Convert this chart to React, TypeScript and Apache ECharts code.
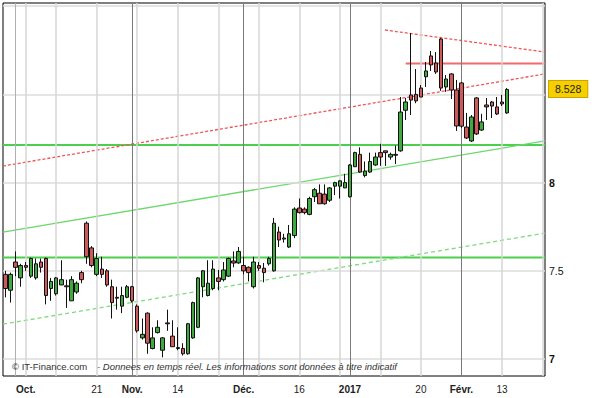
import React, { useEffect, useRef } from "react";
import * as echarts from "echarts";

// OHLC per trading day (Sep 27 2016 .. Feb 14 2017)
const opens = [7.48,7.39,7.55,7.46,7.53,7.47,7.46,7.55,7.57,7.40,7.37,7.42,7.415,7.33,7.38,7.49,7.77,7.63,7.48,7.51,7.50,7.41,7.35,7.30,7.35,7.41,7.30,7.12,7.26,7.06,7.15,7.05,7.205,7.13,7.06,7.06,7.03,7.12,7.18,7.41,7.36,7.40,7.46,7.45,7.47,7.556,7.545,7.53,7.52,7.41,7.53,7.515,7.54,7.50,7.72,7.686,7.635,7.70,7.856,7.85,7.82,7.92,7.94,7.935,7.90,7.98,7.98,7.97,7.92,8.09,8.16,8.04,8.06,8.10,8.17,8.18,8.145,8.155,8.18,8.41,8.497,8.50,8.536,8.60,8.718,8.678,8.814,8.542,8.616,8.525,8.565,8.315,8.236,8.48,8.298,8.44,8.457,8.429,8.457,8.395];
const closes = [7.40,7.48,7.52,7.53,7.52,7.57,7.54,7.52,7.36,7.44,7.46,7.45,7.41,7.45,7.43,7.45,7.58,7.53,7.57,7.48,7.42,7.32,7.345,7.36,7.41,7.33,7.16,7.14,7.09,7.12,7.18,7.12,7.20,7.07,7.065,7.03,7.20,7.32,7.46,7.50,7.43,7.51,7.44,7.505,7.57,7.544,7.61,7.50,7.49,7.55,7.515,7.49,7.57,7.77,7.675,7.68,7.71,7.85,7.83,7.83,7.91,7.96,7.88,7.88,7.97,8.00,8.01,8.00,8.10,8.17,8.06,8.065,8.12,8.145,8.145,8.17,8.16,8.16,8.40,8.457,8.468,8.463,8.485,8.633,8.667,8.627,8.536,8.587,8.525,8.321,8.32,8.253,8.372,8.276,8.344,8.429,8.434,8.389,8.446,8.528];
const lows = [7.35,7.32,7.47,7.41,7.50,7.46,7.45,7.49,7.31,7.33,7.36,7.42,7.29,7.33,7.37,7.43,7.54,7.52,7.47,7.46,7.41,7.23,7.28,7.26,7.345,7.32,7.15,7.11,7.03,7.055,7.145,7.01,7.16,7.07,7.05,7.02,7.025,7.115,7.175,7.35,7.355,7.39,7.39,7.44,7.465,7.52,7.54,7.48,7.44,7.40,7.50,7.435,7.53,7.495,7.635,7.66,7.63,7.685,7.825,7.82,7.815,7.89,7.88,7.875,7.89,7.93,7.91,7.97,7.915,8.09,8.055,8.03,8.055,8.095,8.095,8.095,8.13,8.105,8.175,8.355,8.383,8.45,8.485,8.542,8.633,8.616,8.52,8.514,8.474,8.293,8.31,8.247,8.23,8.27,8.293,8.355,8.366,8.383,8.434,8.39];
const highs = [7.50,7.49,7.61,7.54,7.55,7.575,7.57,7.57,7.575,7.46,7.465,7.56,7.45,7.47,7.44,7.50,7.78,7.64,7.60,7.58,7.51,7.45,7.41,7.41,7.42,7.415,7.31,7.23,7.265,7.18,7.22,7.125,7.28,7.22,7.18,7.09,7.205,7.325,7.465,7.505,7.56,7.56,7.505,7.55,7.575,7.61,7.635,7.58,7.525,7.58,7.55,7.545,7.58,7.80,7.75,7.71,7.76,7.86,7.91,7.86,7.92,7.97,7.99,7.99,7.975,8.005,8.015,8.05,8.105,8.175,8.20,8.12,8.17,8.17,8.22,8.18,8.17,8.21,8.485,8.48,8.848,8.644,8.553,8.684,8.746,8.74,8.82,8.61,8.62,8.582,8.57,8.395,8.383,8.485,8.39,8.48,8.463,8.485,8.497,8.536];

const slotCount = 107; // trading-day slots on the x axis (7 empty at the right)
const tickLabels: [number, string, boolean][] = [
  [4, "Oct.", true], [18, "21", false], [25, "Nov.", true], [34, "14", false],
  [47, "Déc.", true], [58, "16", false], [68, "2017", true], [82, "20", false],
  [90, "Févr.", true], [98, "13", false],
];
const yTicks: [number, boolean][] = [[7, true], [7.5, false], [8, true], [8.5, false], [9, false]];
const weekLines = [4, 10, 18, 26, 34, 42, 50, 58, 66, 74, 82, 98, 106];
const monthLines = [2, 25, 47, 68, 90];
const lastPrice = 8.528;

// trend lines: [x, price] end points in slot units
const redRise = [[0, 8.094], [107, 8.616]];
const redFall = [[75.4, 8.865], [107, 8.74]];
const redFlat = [[79.5, 8.675], [107, 8.675]];
const greenFlatHigh = [[0, 8.213], [107, 8.213]];
const greenFlatLow = [[0, 7.575], [107, 7.575]];
const greenRise = [[0, 7.72], [107, 8.236]];
const greenDashed = [[0, 7.198], [107, 7.714]];

const FONT = "'Liberation Sans', Arial, sans-serif";

export default function App() {
  const ref = useRef<HTMLDivElement>(null);
  useEffect(() => {
    if (!ref.current) return;
    const chart = echarts.init(ref.current, null, { renderer: "svg" });
    const categories = Array.from({ length: slotCount }, (_, i) => String(i));
    const labelMap: Record<number, [string, boolean]> = {};
    tickLabels.forEach(([i, t, b]) => (labelMap[i] = [t, b]));
    const candles = opens.map((o, i) => [o, closes[i], lows[i], highs[i]]);

    const trend = (data: number[][], color: string, width: number, type: any, z = 3) => ({
      type: "line",
      xAxisIndex: 1,
      yAxisIndex: 0,
      data,
      symbol: "none",
      silent: true,
      z,
      lineStyle: { color, width, type },
    });

    chart.setOption({
      animation: false,
      textStyle: { fontFamily: FONT },
      grid: {
        left: 3, top: 3, right: 66, bottom: 22,
        show: true, borderColor: "#000", borderWidth: 1, backgroundColor: "#fff",
      },
      xAxis: [
        {
          type: "category",
          data: categories,
          boundaryGap: true,
          axisLine: { show: false },
          axisTick: { show: false },
          splitLine: { show: false },
          axisLabel: {
            interval: (i: number) => labelMap[i] !== undefined,
            margin: 8,
            formatter: (_v: string, i: number) => {
              const l = labelMap[i];
              if (!l) return "";
              return l[1] ? `{b|${l[0]}}` : `{n|${l[0]}}`;
            },
            rich: {
              b: { fontWeight: "bold", fontSize: 10, color: "#222", fontFamily: FONT },
              n: { fontSize: 10, color: "#222", fontFamily: FONT },
            },
          },
        },
        { type: "value", min: 0, max: slotCount, show: false },
      ],
      yAxis: {
        type: "value",
        min: 6.904,
        max: 9.018,
        position: "right",
        axisLine: { show: false },
        axisTick: { show: false },
        axisLabel: { show: false },
        splitLine: { show: false },
      },
      graphic: [
        {
          type: "text", left: 12, top: 361, z: 10,
          style: { text: "© IT-Finance.com", fill: "#333", font: `9.5px ${FONT}` },
        },
        {
          type: "text", left: 97, top: 361, z: 10,
          style: {
            text: "- Donnees en temps réel. Les informations sont données à titre indicatif",
            fill: "#333", font: `italic 9.5px ${FONT}`,
          },
        },
      ],
      series: [
        {
          type: "line",
          xAxisIndex: 1,
          yAxisIndex: 0,
          data: [],
          silent: true,
          z: 1,
          markLine: {
            silent: true,
            symbol: "none",
            animation: false,
            data: [
              ...yTicks.map(([v, bold]) => ({
                yAxis: v,
                lineStyle: { color: "#dddddd", width: 1.5, type: "solid" },
                label: {
                  show: v < 9,
                  position: "end",
                  distance: 4,
                  formatter: String(v),
                  color: "#111",
                  fontSize: 10.5,
                  fontWeight: bold ? "bold" : "normal",
                  fontFamily: FONT,
                },
              })),
              ...weekLines.map((i) => ({
                xAxis: i + 0.5,
                lineStyle: { color: "#d6d6d6", width: 1.5, type: "solid" },
                label: { show: false },
              })),
              ...monthLines.map((i) => ({
                xAxis: i + 0.5,
                lineStyle: { color: i === 2 ? "#b0b0b0" : "#7a7a7a", width: 1, type: "solid" },
                label: { show: false },
              })),
            ],
          },
        },
        trend(greenFlatHigh, "#4ccf4c", 2, "solid"),
        trend(greenFlatLow, "#4ccf4c", 2, "solid"),
        trend(greenRise, "#6cd86c", 1.3, "solid"),
        trend(greenDashed, "#7bdc7b", 1.3, [4, 3]),
        trend(redRise, "#f25555", 1.3, [3, 2]),
        trend(redFall, "#f25555", 1.3, [3, 2]),
        trend(redFlat, "#f26a6a", 2, "solid"),
        {
          type: "candlestick",
          xAxisIndex: 0,
          yAxisIndex: 0,
          data: candles,
          barWidth: 4,
          z: 5,
          itemStyle: {
            color: "#3fa83f",
            color0: "#cc5a5a",
            borderColor: "#111",
            borderColor0: "#111",
            borderWidth: 1,
          },
          markLine: {
            silent: true,
            symbol: "none",
            animation: false,
            data: [
              {
                yAxis: lastPrice,
                lineStyle: { color: "rgba(0,0,0,0)", width: 1, type: "solid" },
                label: {
                  show: true,
                  position: "end",
                  distance: 4,
                  formatter: lastPrice.toFixed(3),
                  backgroundColor: "#f5cf00",
                  borderColor: "#c9a400",
                  borderWidth: 1,
                  padding: [3, 6, 2, 6],
                  color: "#222",
                  fontSize: 10.5,
                  fontFamily: FONT,
                },
              },
            ],
          },
        },
      ],
    });
    return () => chart.dispose();
  }, []);
  return (
    <div
      ref={ref}
      style={{ position: "fixed", left: 0, top: 0, width: 611, height: 398, background: "#fff" }}
    />
  );
}
